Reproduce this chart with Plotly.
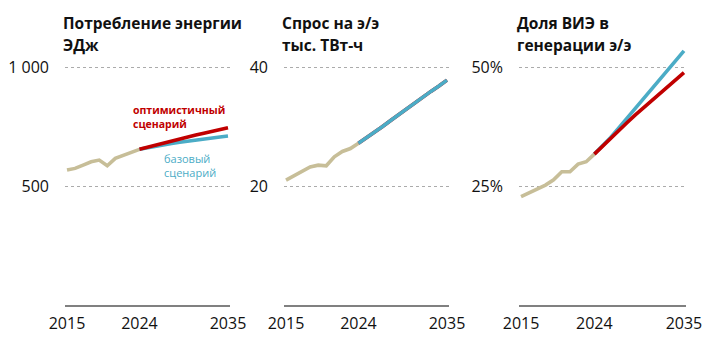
import plotly.graph_objects as go

W, H = 715, 338

# ---- data ----
hist_years = [2015, 2016, 2017, 2018, 2019, 2020, 2021, 2022, 2023, 2024]
fc_years = [2024, 2025, 2026, 2027, 2028, 2029, 2030, 2031, 2032, 2033, 2034, 2035]

energy_hist = [567, 574, 588, 602, 609, 585, 616, 630, 640, 654]
energy_opt = [654, 663, 672, 681, 690, 698, 706, 714, 722, 730, 737, 745]
energy_base = [654, 661, 667, 673, 679, 684, 689, 694, 698, 702, 706, 710]

power_hist = [21.0, 21.7, 22.4, 23.2, 23.5, 23.4, 24.9, 25.8, 26.3, 27.2]
power_opt = [27.2, 28.1, 29.1, 30.0, 31.0, 32.0, 32.9, 33.9, 34.9, 35.9, 36.8, 37.8]
power_base = [27.2, 28.1, 29.1, 30.0, 31.0, 32.0, 32.9, 33.9, 34.9, 35.9, 36.8, 37.8]

res_hist = [22.75, 23.6, 24.3, 25.2, 26.3, 28.0, 28.0, 29.6, 30.1, 31.7]
res_opt = [31.7, 33.4, 35.1, 36.7, 38.3, 39.9, 41.4, 43.0, 44.5, 46.0, 47.4, 48.8]
res_base = [31.7, 33.4, 35.2, 37.2, 39.2, 41.3, 43.3, 45.3, 47.4, 49.4, 51.4, 53.4]

title_line1 = ["Потребление энергии", "Спрос на э/э", "Доля ВИЭ в"]
title_line2 = ["ЭДж", "тыс. ТВт-ч", "генерации э/э"]
y_ticks = [[500, 1000], [20, 40], [25, 50]]
y_ticktext = [["500", "1 000"], ["20", "40"], ["25%", "50%"]]
x_ticks = [2015, 2024, 2035]

C_HIST = "#C7BE98"
C_OPT = "#C00000"
C_BASE = "#4BACC6"
FONT = "Open Sans"

# ---- layout geometry (pixels) ----
px_domains = [(65, 230), (284, 449), (519, 686)]
y_bottom_px, y_top_px, y_grid_top_px = 305, 40, 67

fig = go.Figure()

panels = [
    (energy_hist, energy_opt, energy_base),
    (power_hist, power_opt, power_base),
    (res_hist, res_opt, res_base),
]

for i, (hist, opt, base) in enumerate(panels):
    ax = "" if i == 0 else str(i + 1)
    xa, ya = "x" + ax, "y" + ax
    fig.add_trace(go.Scatter(x=hist_years, y=hist, mode="lines", xaxis=xa, yaxis=ya,
                             line=dict(color=C_HIST, width=3.6), showlegend=False, hoverinfo="skip"))
    if i == 1:
        fig.add_trace(go.Scatter(x=fc_years, y=opt, mode="lines", xaxis=xa, yaxis=ya,
                                 line=dict(color=C_OPT, width=3.6), showlegend=False, hoverinfo="skip"))
        fig.add_trace(go.Scatter(x=fc_years, y=base, mode="lines", xaxis=xa, yaxis=ya,
                                 line=dict(color=C_BASE, width=3.6), showlegend=False, hoverinfo="skip"))
    else:
        fig.add_trace(go.Scatter(x=fc_years, y=base, mode="lines", xaxis=xa, yaxis=ya,
                                 line=dict(color=C_BASE, width=3.6), showlegend=False, hoverinfo="skip"))
        fig.add_trace(go.Scatter(x=fc_years, y=opt, mode="lines", xaxis=xa, yaxis=ya,
                                 line=dict(color=C_OPT, width=3.6), showlegend=False, hoverinfo="skip"))

    d0, d1 = px_domains[i]
    top_tick = y_ticks[i][1]
    ymax = top_tick * (y_bottom_px - y_top_px) / (y_bottom_px - y_grid_top_px)
    xkey = "xaxis" if i == 0 else f"xaxis{i+1}"
    ykey = "yaxis" if i == 0 else f"yaxis{i+1}"
    fig.update_layout(**{
        xkey: dict(domain=[d0 / W, d1 / W], range=[2014.75, 2035.25], anchor=ya,
                   tickvals=x_ticks, ticktext=[str(v) for v in x_ticks], automargin=False,
                   showgrid=False, zeroline=False, showline=True, linecolor="#808080", linewidth=2,
                   ticks="", ticklabelstandoff=3,
                   tickfont=dict(family=FONT, size=16, color="#111111"), fixedrange=True),
        ykey: dict(domain=[(H - y_bottom_px) / H, (H - y_top_px) / H], range=[0, ymax], anchor=xa,
                   tickvals=y_ticks[i], ticktext=y_ticktext[i], automargin=False,
                   showgrid=True, gridcolor="#ABABAB", griddash="dot", gridwidth=1.2,
                   zeroline=False, showline=False, ticks="", ticklabelstandoff=15,
                   tickfont=dict(family=FONT, size=16, color="#111111"), fixedrange=True),
    })
    for line_text, yc in ((title_line1[i], 23), (title_line2[i], 45)):
        fig.add_annotation(text="<b>" + line_text + "</b>", xref="paper", yref="paper",
                           x=(d0 - 4) / W, y=(H - yc) / H, xanchor="left", yanchor="middle",
                           align="left", showarrow=False,
                           font=dict(family=FONT, size=15.5, color="#111111"))

fig.add_annotation(text="<b>оптимистичный<br>сценарий</b>", xref="paper", yref="paper",
                   x=131 / W, y=(H - 101) / H, xanchor="left", yanchor="top", align="left",
                   showarrow=False, font=dict(family=FONT, size=10.5, color=C_OPT))
fig.add_annotation(text="базовый<br>сценарий", xref="paper", yref="paper",
                   x=162 / W, y=(H - 149) / H, xanchor="left", yanchor="top", align="left",
                   showarrow=False, font=dict(family=FONT, size=11, color=C_BASE))

fig.update_layout(width=W, height=H, margin=dict(l=0, r=0, t=0, b=0),
                  paper_bgcolor="white", plot_bgcolor="white")

fig.write_html("out.html")
